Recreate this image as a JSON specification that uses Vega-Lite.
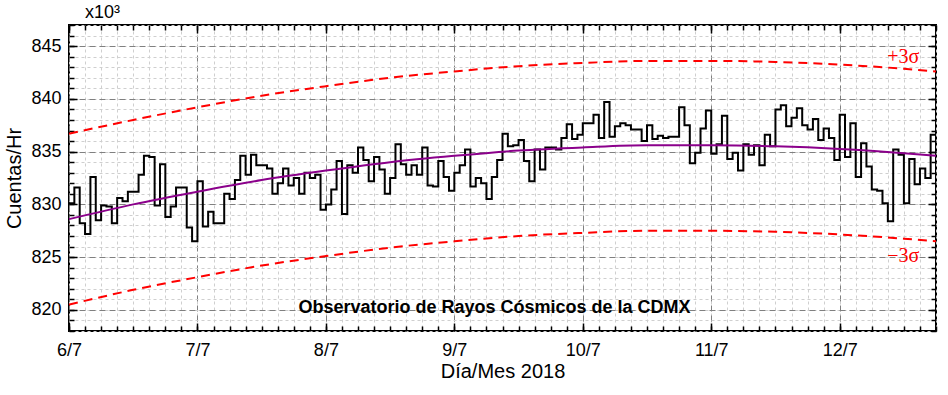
{
  "$schema": "https://vega.github.io/schema/vega-lite/v6.json",
  "width": 867,
  "height": 306,
  "autosize": {"type": "none"},
  "padding": {"left": 69, "top": 25, "right": 12, "bottom": 64},
  "background": "white",
  "config": {
    "view": {"stroke": "black", "strokeWidth": 2},
    "font": "Liberation Sans",
    "axis": {"domain": false}
  },
  "title": {"text": "x10³", "anchor": "start", "frame": "group", "fontSize": 18, "fontWeight": "normal", "font": "Liberation Sans", "color": "black", "dx": 16, "offset": 2},
  "datasets": {
    "obs": [
      {"h":0,"v":830.1},{"h":1,"v":831.6},{"h":2,"v":828.2},{"h":3,"v":827.2},{"h":4,"v":832.6},{"h":5,"v":828.5},{"h":6,"v":829.9},{"h":7,"v":829.8},{"h":8,"v":828.2},{"h":9,"v":830.6},
      {"h":10,"v":830.3},{"h":11,"v":831.2},{"h":12,"v":831.2},{"h":13,"v":832.8},{"h":14,"v":834.6},{"h":15,"v":834.5},{"h":16,"v":829.9},{"h":17,"v":833.8},{"h":18,"v":828.8},{"h":19,"v":829.8},
      {"h":20,"v":831.6},{"h":21,"v":831.6},{"h":22,"v":827.8},{"h":23,"v":826.5},{"h":24,"v":832.2},{"h":25,"v":827.9},{"h":26,"v":829.3},{"h":27,"v":828.2},{"h":28,"v":828.2},{"h":29,"v":831.0},
      {"h":30,"v":830.5},{"h":31,"v":832.3},{"h":32,"v":834.6},{"h":33,"v":832.8},{"h":34,"v":834.7},{"h":35,"v":833.7},{"h":36,"v":833.7},{"h":37,"v":833.4},{"h":38,"v":831.0},{"h":39,"v":832.0},
      {"h":40,"v":833.4},{"h":41,"v":831.8},{"h":42,"v":832.5},{"h":43,"v":831.0},{"h":44,"v":833.0},{"h":45,"v":832.5},{"h":46,"v":832.8},{"h":47,"v":829.5},{"h":48,"v":830.0},{"h":49,"v":831.4},
      {"h":50,"v":834.1},{"h":51,"v":829.1},{"h":52,"v":833.7},{"h":53,"v":833.0},{"h":54,"v":835.4},{"h":55,"v":834.2},{"h":56,"v":832.2},{"h":57,"v":834.5},{"h":58,"v":833.3},{"h":59,"v":831.0},
      {"h":60,"v":832.5},{"h":61,"v":835.7},{"h":62,"v":833.8},{"h":63,"v":832.8},{"h":64,"v":833.7},{"h":65,"v":832.8},{"h":66,"v":835.4},{"h":67,"v":831.8},{"h":68,"v":831.7},{"h":69,"v":834.1},
      {"h":70,"v":832.6},{"h":71,"v":831.3},{"h":72,"v":833.0},{"h":73,"v":833.7},{"h":74,"v":835.2},{"h":75,"v":831.7},{"h":76,"v":832.5},{"h":77,"v":832.0},{"h":78,"v":830.5},{"h":79,"v":832.6},
      {"h":80,"v":834.2},{"h":81,"v":836.7},{"h":82,"v":835.5},{"h":83,"v":835.6},{"h":84,"v":836.1},{"h":85,"v":834.1},{"h":86,"v":832.2},{"h":87,"v":835.2},{"h":88,"v":833.3},{"h":89,"v":835.4},
      {"h":90,"v":835.4},{"h":91,"v":835.2},{"h":92,"v":836.3},{"h":93,"v":837.6},{"h":94,"v":836.2},{"h":95,"v":836.6},{"h":96,"v":837.7},{"h":97,"v":837.7},{"h":98,"v":838.5},{"h":99,"v":836.3},
      {"h":100,"v":839.7},{"h":101,"v":836.4},{"h":102,"v":837.4},{"h":103,"v":837.7},{"h":104,"v":837.5},{"h":105,"v":837.1},{"h":106,"v":837.1},{"h":107,"v":836.0},{"h":108,"v":837.5},{"h":109,"v":836.2},
      {"h":110,"v":836.5},{"h":111,"v":836.3},{"h":112,"v":836.4},{"h":113,"v":836.4},{"h":114,"v":839.2},{"h":115,"v":837.5},{"h":116,"v":833.9},{"h":117,"v":834.9},{"h":118,"v":837.2},{"h":119,"v":838.9},
      {"h":120,"v":834.8},{"h":121,"v":835.7},{"h":122,"v":838.4},{"h":123,"v":834.3},{"h":124,"v":834.9},{"h":125,"v":833.2},{"h":126,"v":835.7},{"h":127,"v":834.7},{"h":128,"v":835.6},{"h":129,"v":833.7},
      {"h":130,"v":836.6},{"h":131,"v":835.5},{"h":132,"v":839.0},{"h":133,"v":839.4},{"h":134,"v":837.4},{"h":135,"v":838.2},{"h":136,"v":839.1},{"h":137,"v":837.5},{"h":138,"v":837.1},{"h":139,"v":838.1},
      {"h":140,"v":836.1},{"h":141,"v":837.2},{"h":142,"v":836.3},{"h":143,"v":834.2},{"h":144,"v":838.5},{"h":145,"v":834.5},{"h":146,"v":837.7},{"h":147,"v":832.6},{"h":148,"v":835.8},{"h":149,"v":833.6},
      {"h":150,"v":831.4},{"h":151,"v":831.3},{"h":152,"v":830.1},{"h":153,"v":828.4},{"h":154,"v":835.2},{"h":155,"v":834.7},{"h":156,"v":830.1},{"h":157,"v":834.3},{"h":158,"v":831.9},{"h":159,"v":833.4},
      {"h":160,"v":832.5},{"h":161,"v":836.6},{"h":162,"v":836.6}
    ],
    "fit": [
      {"h":0,"fit":828.6,"up":836.7,"lo":820.5},
      {"h":12,"fit":830.0,"up":838.0,"lo":821.9},
      {"h":24,"fit":831.2,"up":839.2,"lo":823.1},
      {"h":36,"fit":832.3,"up":840.3,"lo":824.2},
      {"h":48,"fit":833.2,"up":841.2,"lo":825.1},
      {"h":60,"fit":834.0,"up":842.0,"lo":825.9},
      {"h":72,"fit":834.6,"up":842.6,"lo":826.5},
      {"h":84,"fit":835.1,"up":843.1,"lo":827.0},
      {"h":96,"fit":835.4,"up":843.4,"lo":827.3},
      {"h":108,"fit":835.6,"up":843.6,"lo":827.5},
      {"h":120,"fit":835.6,"up":843.6,"lo":827.5},
      {"h":132,"fit":835.5,"up":843.5,"lo":827.4},
      {"h":144,"fit":835.25,"up":843.25,"lo":827.15},
      {"h":156,"fit":834.85,"up":842.85,"lo":826.75},
      {"h":162,"fit":834.6,"up":842.6,"lo":826.5}
    ],
    "labels": [
      {"h":155.9,"v":844.0,"t":"+3σ"},
      {"h":155.9,"v":825.1,"t":"−3σ"}
    ],
    "note": [
      {"h":79.5,"v":820.2,"t":"Observatorio de Rayos Cósmicos de la CDMX"}
    ]
  },
  "resolve": {"axis": {"x": "independent", "y": "independent"}},
  "layer": [
    {
      "data": {"name": "obs"},
      "mark": {"type": "line", "interpolate": "step-after", "color": "black", "strokeWidth": 2, "clip": true},
      "encoding": {
        "x": {"field": "h", "type": "quantitative", "scale": {"domain": [0, 162], "nice": false, "zero": false},
          "axis": {"orient": "bottom", "values": [0,3,6,9,12,15,18,21,24,27,30,33,36,39,42,45,48,51,54,57,60,63,66,69,72,75,78,81,84,87,90,93,96,99,102,105,108,111,114,117,120,123,126,129,132,135,138,141,144,147,150,153,156,159,162], "labels": false, "ticks": false, "title": null, "grid": true, "gridColor": "#cfcfcf", "gridDash": [3, 3], "gridWidth": 1}},
        "y": {"field": "v", "type": "quantitative", "scale": {"domain": [818, 847], "nice": false, "zero": false},
          "axis": {"orient": "left", "values": [818,819,820,821,822,823,824,825,826,827,828,829,830,831,832,833,834,835,836,837,838,839,840,841,842,843,844,845,846,847], "labels": false, "ticks": false, "title": null, "grid": true, "gridColor": "#cfcfcf", "gridDash": [3, 3], "gridWidth": 1}}
      }
    },
    {
      "data": {"name": "fit"},
      "mark": {"type": "line", "interpolate": "monotone", "color": "#8b008b", "strokeWidth": 2},
      "encoding": {
        "x": {"field": "h", "type": "quantitative",
          "axis": {"orient": "bottom", "values": [0,24,48,72,96,120,144], "labelExpr": "(6 + datum.value/24) + '/7'", "labelFlush": false, "labelFontSize": 18, "labelColor": "black", "labelPadding": 10, "ticks": false, "grid": true, "gridColor": "#808080", "gridDash": [6, 4], "gridWidth": 1, "title": "Día/Mes 2018", "titleFontSize": 20, "titleFontWeight": "normal", "titleColor": "black", "titlePadding": 2}},
        "y": {"field": "fit", "type": "quantitative",
          "axis": {"orient": "left", "values": [820,825,830,835,840,845], "labelFlush": false, "labelFontSize": 18, "labelColor": "black", "labelPadding": 8, "ticks": false, "grid": true, "gridColor": "#808080", "gridDash": [6, 4], "gridWidth": 1, "title": "Cuentas/Hr", "titleFontSize": 20, "titleFontWeight": "normal", "titleColor": "black", "titlePadding": 6}}
      }
    },
    {
      "data": {"name": "fit"},
      "mark": {"type": "line", "interpolate": "monotone", "color": "#ff0000", "strokeWidth": 2, "strokeDash": [9, 6]},
      "encoding": {
        "x": {"field": "h", "type": "quantitative",
          "axis": {"orient": "bottom", "values": [0,24,48,72,96,120,144], "labels": false, "ticks": true, "tickSize": -8, "tickWidth": 1.5, "tickColor": "black", "grid": false, "title": null}},
        "y": {"field": "up", "type": "quantitative",
          "axis": {"orient": "left", "values": [820,825,830,835,840,845], "labels": false, "ticks": true, "tickSize": -8, "tickWidth": 1.5, "tickColor": "black", "grid": false, "title": null}}
      }
    },
    {
      "data": {"name": "fit"},
      "mark": {"type": "line", "interpolate": "monotone", "color": "#ff0000", "strokeWidth": 2, "strokeDash": [9, 6]},
      "encoding": {
        "x": {"field": "h", "type": "quantitative",
          "axis": {"orient": "bottom", "values": [0,3,6,9,12,15,18,21,24,27,30,33,36,39,42,45,48,51,54,57,60,63,66,69,72,75,78,81,84,87,90,93,96,99,102,105,108,111,114,117,120,123,126,129,132,135,138,141,144,147,150,153,156,159,162], "labels": false, "ticks": true, "tickSize": -5, "tickWidth": 1.5, "tickColor": "black", "grid": false, "title": null}},
        "y": {"field": "lo", "type": "quantitative",
          "axis": {"orient": "left", "values": [818,819,820,821,822,823,824,825,826,827,828,829,830,831,832,833,834,835,836,837,838,839,840,841,842,843,844,845,846,847], "labels": false, "ticks": true, "tickSize": -5, "tickWidth": 1.5, "tickColor": "black", "grid": false, "title": null}}
      }
    },
    {
      "data": {"name": "labels"},
      "mark": {"type": "text", "color": "#ff0000", "font": "Liberation Serif", "fontSize": 20, "align": "center", "baseline": "middle"},
      "encoding": {
        "text": {"field": "t"},
        "x": {"field": "h", "type": "quantitative",
          "axis": {"orient": "top", "values": [0,24,48,72,96,120,144], "labels": false, "ticks": true, "tickSize": -8, "tickWidth": 1.5, "tickColor": "black", "grid": false, "title": null}},
        "y": {"field": "v", "type": "quantitative",
          "axis": {"orient": "right", "values": [820,825,830,835,840,845], "labels": false, "ticks": true, "tickSize": -8, "tickWidth": 1.5, "tickColor": "black", "grid": false, "title": null}}
      }
    },
    {
      "data": {"name": "note"},
      "mark": {"type": "text", "color": "black", "font": "Liberation Sans", "fontSize": 18, "fontWeight": "bold", "align": "center", "baseline": "middle"},
      "encoding": {
        "text": {"field": "t"},
        "x": {"field": "h", "type": "quantitative",
          "axis": {"orient": "top", "values": [0,3,6,9,12,15,18,21,24,27,30,33,36,39,42,45,48,51,54,57,60,63,66,69,72,75,78,81,84,87,90,93,96,99,102,105,108,111,114,117,120,123,126,129,132,135,138,141,144,147,150,153,156,159,162], "labels": false, "ticks": true, "tickSize": -5, "tickWidth": 1.5, "tickColor": "black", "grid": false, "title": null}},
        "y": {"field": "v", "type": "quantitative",
          "axis": {"orient": "right", "values": [818,819,820,821,822,823,824,825,826,827,828,829,830,831,832,833,834,835,836,837,838,839,840,841,842,843,844,845,846,847], "labels": false, "ticks": true, "tickSize": -5, "tickWidth": 1.5, "tickColor": "black", "grid": false, "title": null}}
      }
    }
  ]
}
